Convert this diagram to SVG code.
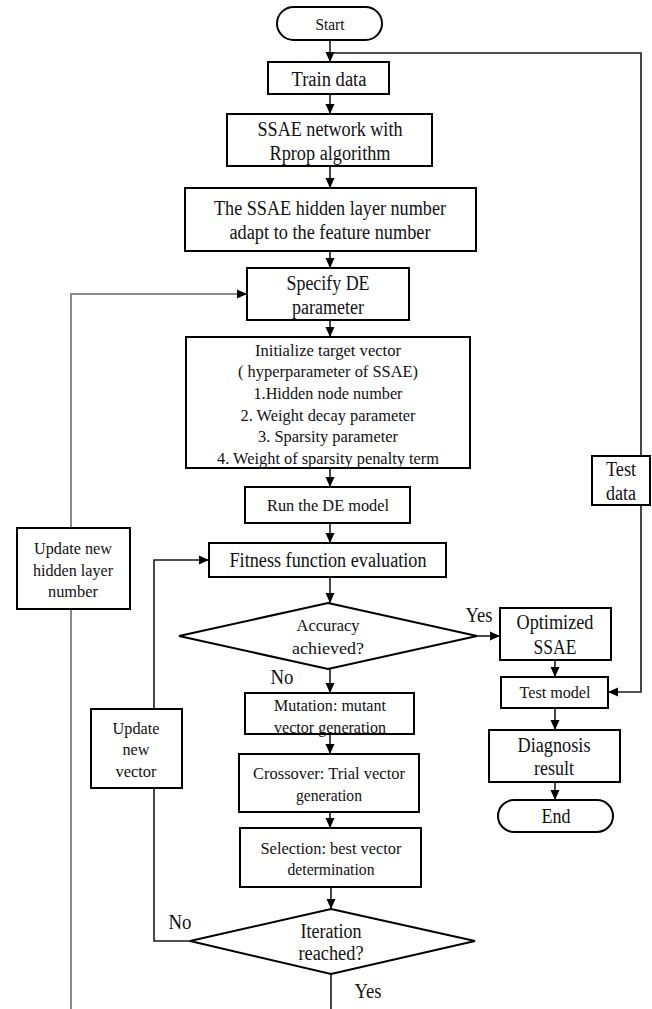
<svg xmlns="http://www.w3.org/2000/svg" width="652" height="1009" viewBox="0 0 652 1009">
<style>
.bg{fill:#ffffff}
.box{fill:#ffffff;stroke:#000000;stroke-width:2}
.con{fill:none;stroke:#1a1a1a;stroke-width:1.6}
.gray{fill:none;stroke:#8a8a8a;stroke-width:2}
text{font-family:'Liberation Serif','Times New Roman',serif;fill:#111111;text-anchor:middle;dominant-baseline:central}
.L{font-size:20px}
.M{font-size:17.5px}
.T{font-size:17px}
</style>
<defs>
<marker id="ah" viewBox="0 0 10 10" refX="10" refY="5" markerWidth="10" markerHeight="10" markerUnits="userSpaceOnUse" orient="auto">
<path d="M0,0.5 L10,5 L0,9.5 z" fill="#000000"/>
</marker>
</defs>
<rect class="bg" x="0" y="0" width="652" height="1009"/>
<g id="connectors">
<path class="con" d="M330,40 V62" marker-end="url(#ah)"/>
<path class="con" d="M330,53 H641 V692 H608" marker-end="url(#ah)"/>
<path class="con" d="M330,94 V114" marker-end="url(#ah)"/>
<path class="con" d="M330,166 V188" marker-end="url(#ah)"/>
<path class="con" d="M330,251 V268" marker-end="url(#ah)"/>
<path class="con" d="M330,320 V337" marker-end="url(#ah)"/>
<path class="con" d="M330,468 V487" marker-end="url(#ah)"/>
<path class="con" d="M330,523 V543" marker-end="url(#ah)"/>
<path class="con" d="M330,577 V603" marker-end="url(#ah)"/>
<path class="con" d="M477,636 H500" marker-end="url(#ah)"/>
<path class="con" d="M330,669 V693" marker-end="url(#ah)"/>
<path class="con" d="M555,660 V677" marker-end="url(#ah)"/>
<path class="con" d="M555,708 V730" marker-end="url(#ah)"/>
<path class="con" d="M555,782 V800" marker-end="url(#ah)"/>
<path class="con" d="M330,734 V754" marker-end="url(#ah)"/>
<path class="con" d="M330,812 V828" marker-end="url(#ah)"/>
<path class="con" d="M331,887 V909" marker-end="url(#ah)"/>
<path class="con" d="M190,941 H154 V788"/>
<path class="con" d="M154,709 V560 H209" marker-end="url(#ah)"/>
<path class="con" d="M331,974 V1009"/>
<path class="gray" d="M71,1009 V609"/>
<path class="gray" d="M71,528 V294 H247" marker-end="url(#ah)"/>
</g>
<g id="start">
<rect class="box" x="277" y="7" width="105" height="33" rx="16.5" ry="16.5"/>
<text class="T" x="330" y="24" textLength="29" lengthAdjust="spacingAndGlyphs">Start</text>
</g>
<g id="train-data">
<rect class="box" x="268" y="62" width="121" height="32"/>
<text class="L" x="329" y="79" textLength="75" lengthAdjust="spacingAndGlyphs">Train data</text>
</g>
<g id="ssae-network">
<rect class="box" x="227" y="114" width="205" height="52"/>
<text class="L" x="330" y="129" textLength="145" lengthAdjust="spacingAndGlyphs">SSAE network with</text>
<text class="L" x="330" y="153" textLength="121" lengthAdjust="spacingAndGlyphs">Rprop algorithm</text>
</g>
<g id="hidden-layer">
<rect class="box" x="185" y="188" width="291" height="63"/>
<text class="L" x="330" y="208" textLength="232" lengthAdjust="spacingAndGlyphs">The SSAE hidden layer number</text>
<text class="L" x="330" y="232" textLength="201" lengthAdjust="spacingAndGlyphs">adapt to the feature number</text>
</g>
<g id="specify-de">
<rect class="box" x="247" y="268" width="162" height="52"/>
<text class="L" x="328" y="283" textLength="83" lengthAdjust="spacingAndGlyphs">Specify DE</text>
<text class="L" x="328" y="307" textLength="72" lengthAdjust="spacingAndGlyphs">parameter</text>
</g>
<g id="initialize">
<rect class="box" x="186" y="337" width="284" height="131"/>
<text class="M" x="328" y="350" textLength="146" lengthAdjust="spacingAndGlyphs">Initialize target vector</text>
<text class="M" x="328" y="371" textLength="180" lengthAdjust="spacingAndGlyphs">( hyperparameter of SSAE)</text>
<text class="M" x="328" y="393" textLength="149" lengthAdjust="spacingAndGlyphs">1.Hidden node number</text>
<text class="M" x="328" y="415" textLength="175" lengthAdjust="spacingAndGlyphs">2. Weight decay parameter</text>
<text class="M" x="328" y="436" textLength="140" lengthAdjust="spacingAndGlyphs">3. Sparsity parameter</text>
<text class="M" x="328" y="458" textLength="222" lengthAdjust="spacingAndGlyphs">4. Weight of sparsity penalty term</text>
</g>
<g id="run-de">
<rect class="box" x="245" y="487" width="165" height="36"/>
<text class="M" x="328" y="505" textLength="122" lengthAdjust="spacingAndGlyphs">Run the DE model</text>
</g>
<g id="fitness">
<rect class="box" x="209" y="543" width="237" height="34"/>
<text class="L" x="328" y="560" textLength="197" lengthAdjust="spacingAndGlyphs">Fitness function evaluation</text>
</g>
<g id="accuracy">
<polygon class="box" points="328,603 477,636 328,669 179,636"/>
<text class="M" x="328" y="625" textLength="63" lengthAdjust="spacingAndGlyphs">Accuracy</text>
<text class="M" x="328" y="648" textLength="72" lengthAdjust="spacingAndGlyphs">achieved?</text>
</g>
<g id="label-yes-1">
<text class="L" x="479" y="615" textLength="27" lengthAdjust="spacingAndGlyphs">Yes</text>
</g>
<g id="label-no-1">
<text class="L" x="282" y="677" textLength="23" lengthAdjust="spacingAndGlyphs">No</text>
</g>
<g id="optimized">
<rect class="box" x="500" y="608" width="111" height="52"/>
<text class="L" x="555" y="622" textLength="77" lengthAdjust="spacingAndGlyphs">Optimized</text>
<text class="L" x="555" y="647" textLength="43" lengthAdjust="spacingAndGlyphs">SSAE</text>
</g>
<g id="test-model">
<rect class="box" x="501" y="677" width="107" height="31"/>
<text class="M" x="555" y="692" textLength="71" lengthAdjust="spacingAndGlyphs">Test model</text>
</g>
<g id="diagnosis">
<rect class="box" x="489" y="730" width="131" height="52"/>
<text class="L" x="554" y="745" textLength="73" lengthAdjust="spacingAndGlyphs">Diagnosis</text>
<text class="L" x="554" y="768" textLength="40" lengthAdjust="spacingAndGlyphs">result</text>
</g>
<g id="end">
<rect class="box" x="498" y="800" width="115" height="32" rx="16" ry="16"/>
<text class="L" x="556" y="816" textLength="29" lengthAdjust="spacingAndGlyphs">End</text>
</g>
<g id="test-data">
<rect class="box" x="592" y="456" width="58" height="49"/>
<text class="L" x="621" y="469" textLength="30" lengthAdjust="spacingAndGlyphs">Test</text>
<text class="L" x="621" y="493" textLength="30" lengthAdjust="spacingAndGlyphs">data</text>
</g>
<g id="mutation">
<rect class="box" x="245" y="693" width="169" height="41"/>
<text class="M" x="330" y="705" textLength="112" lengthAdjust="spacingAndGlyphs">Mutation: mutant</text>
<text class="M" x="330" y="727" textLength="112" lengthAdjust="spacingAndGlyphs">vector generation</text>
</g>
<g id="crossover">
<rect class="box" x="239" y="754" width="180" height="58"/>
<text class="M" x="329" y="773" textLength="152" lengthAdjust="spacingAndGlyphs">Crossover: Trial vector</text>
<text class="M" x="329" y="795" textLength="66" lengthAdjust="spacingAndGlyphs">generation</text>
</g>
<g id="selection">
<rect class="box" x="240" y="828" width="181" height="59"/>
<text class="M" x="331" y="848" textLength="141" lengthAdjust="spacingAndGlyphs">Selection: best vector</text>
<text class="M" x="331" y="869" textLength="87" lengthAdjust="spacingAndGlyphs">determination</text>
</g>
<g id="iteration">
<polygon class="box" points="331,909 475,941 331,974 190,941"/>
<text class="L" x="331" y="931" textLength="61" lengthAdjust="spacingAndGlyphs">Iteration</text>
<text class="L" x="331" y="953" textLength="65" lengthAdjust="spacingAndGlyphs">reached?</text>
</g>
<g id="label-no-2">
<text class="L" x="180" y="922" textLength="23" lengthAdjust="spacingAndGlyphs">No</text>
</g>
<g id="label-yes-2">
<text class="L" x="368" y="991" textLength="27" lengthAdjust="spacingAndGlyphs">Yes</text>
</g>
<g id="update-hidden-layer">
<rect class="box" x="17" y="528" width="113" height="81"/>
<text class="M" x="73" y="548" textLength="78" lengthAdjust="spacingAndGlyphs">Update new</text>
<text class="M" x="73" y="570" textLength="80" lengthAdjust="spacingAndGlyphs">hidden layer</text>
<text class="M" x="73" y="591" textLength="50" lengthAdjust="spacingAndGlyphs">number</text>
</g>
<g id="update-vector">
<rect class="box" x="91" y="709" width="91" height="79"/>
<text class="M" x="136" y="728" textLength="47" lengthAdjust="spacingAndGlyphs">Update</text>
<text class="M" x="136" y="749" textLength="27" lengthAdjust="spacingAndGlyphs">new</text>
<text class="M" x="136" y="771" textLength="41" lengthAdjust="spacingAndGlyphs">vector</text>
</g>
</svg>
